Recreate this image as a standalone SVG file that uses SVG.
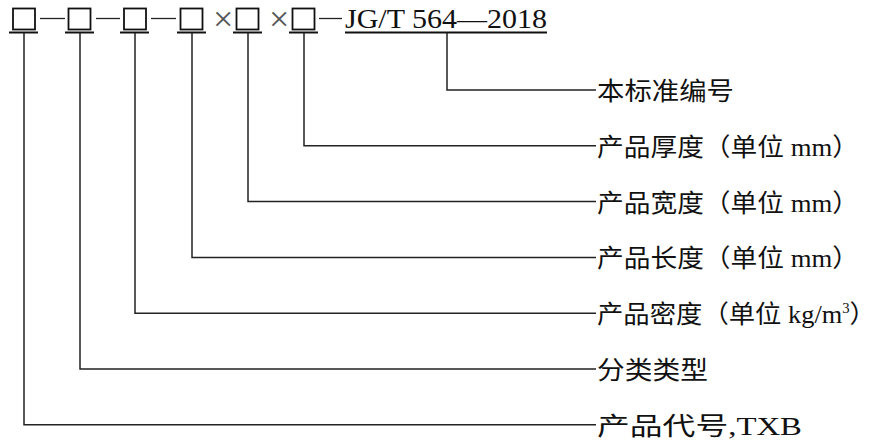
<svg xmlns="http://www.w3.org/2000/svg" width="879" height="440" viewBox="0 0 879 440">
<style>
.box{fill:none;stroke:#111;stroke-width:1.8}
.ul{stroke:#111;stroke-width:2}
.ln{fill:none;stroke:#222;stroke-width:1.5}
.dash{stroke:#222;stroke-width:1.3}
.lbl{font-family:"Liberation Serif","Noto Sans CJK SC",serif;font-size:25px;fill:#111}
.hdr{font-family:"Liberation Serif","Noto Sans CJK SC",serif;font-size:27px;fill:#111}
.x{font-family:"Liberation Serif",serif;font-size:36px;fill:#555}
</style>
<rect width="879" height="440" fill="#fff"/>
<g id="header">
<g id="box1"><rect class="box" x="13" y="8.5" width="22" height="21"/><line class="ul" x1="9" y1="32.5" x2="38" y2="32.5"/></g>
<line class="dash" x1="40" y1="18.5" x2="65" y2="18.5"/>
<g id="box2"><rect class="box" x="68.5" y="8.5" width="22" height="21"/><line class="ul" x1="65" y1="32.5" x2="94" y2="32.5"/></g>
<line class="dash" x1="96" y1="18.5" x2="120" y2="18.5"/>
<g id="box3"><rect class="box" x="124" y="8.5" width="22" height="21"/><line class="ul" x1="120" y1="32.5" x2="149" y2="32.5"/></g>
<line class="dash" x1="151" y1="18.5" x2="176" y2="18.5"/>
<g id="box4"><rect class="box" x="180.5" y="8.5" width="22" height="21"/><line class="ul" x1="177" y1="32.5" x2="206" y2="32.5"/></g>
<text class="x" x="213" y="31">×</text>
<g id="box5"><rect class="box" x="236.5" y="8.5" width="22" height="21"/><line class="ul" x1="233" y1="32.5" x2="262" y2="32.5"/></g>
<text class="x" x="269" y="31">×</text>
<g id="box6"><rect class="box" x="292.5" y="8.5" width="22" height="21"/><line class="ul" x1="289" y1="32.5" x2="318" y2="32.5"/></g>
<line class="dash" x1="319" y1="18.5" x2="342" y2="18.5"/>
<g id="std"><text class="hdr" x="345" y="28" textLength="202" lengthAdjust="spacingAndGlyphs">JG/T 564—2018</text><line class="ul" x1="345" y1="32.5" x2="547" y2="32.5"/></g>
</g>
<g id="connectors">
<polyline class="ln" points="447,33 447,90 596,90"/>
<polyline class="ln" points="304,33 304,145.8 596,145.8"/>
<polyline class="ln" points="248,33 248,201.6 596,201.6"/>
<polyline class="ln" points="192,33 192,257.4 596,257.4"/>
<polyline class="ln" points="135,33 135,313.2 596,313.2"/>
<polyline class="ln" points="80,33 80,369 596,369"/>
<polyline class="ln" points="24,33 24,424.8 596,424.8"/>
</g>
<g id="label-std"><text class="lbl" x="597" y="100" textLength="137" lengthAdjust="spacingAndGlyphs">本标准编号</text></g>
<g id="label-thickness"><text class="lbl" x="597" y="156" textLength="262" lengthAdjust="spacingAndGlyphs">产品厚度（单位 mm）</text></g>
<g id="label-width"><text class="lbl" x="597" y="211.6" textLength="262" lengthAdjust="spacingAndGlyphs">产品宽度（单位 mm）</text></g>
<g id="label-length"><text class="lbl" x="597" y="267.4" textLength="262" lengthAdjust="spacingAndGlyphs">产品长度（单位 mm）</text></g>
<g id="label-density"><text class="lbl" x="597" y="323.2" textLength="279" lengthAdjust="spacingAndGlyphs">产品密度（单位 kg/m<tspan font-size="14" dy="-10">3</tspan><tspan dy="10">）</tspan></text></g>
<g id="label-type"><text class="lbl" x="597" y="379" textLength="111" lengthAdjust="spacingAndGlyphs">分类类型</text></g>
<g id="label-code"><text class="lbl" x="597" y="434.8" textLength="205" lengthAdjust="spacingAndGlyphs">产品代号,TXB</text></g>
</svg>
